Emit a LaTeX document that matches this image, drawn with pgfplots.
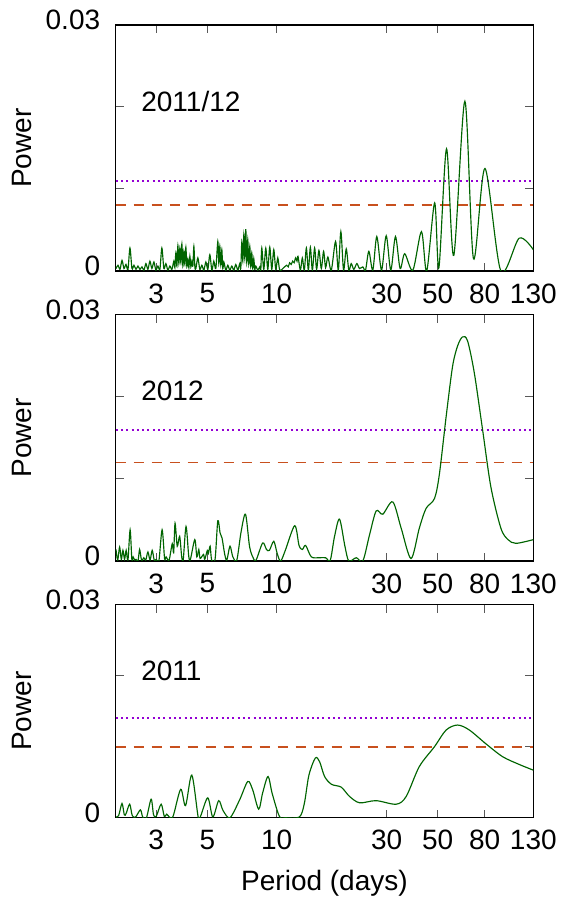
\documentclass[border=0pt]{standalone}
\usepackage{fontspec}
\setmainfont{Liberation Sans}
\usepackage{pgfplots}
\pgfplotsset{compat=1.18}
\newcommand{\fsz}{\fontsize{28}{33}\selectfont}
\definecolor{curve}{RGB}{0,100,0}
\definecolor{violetline}{RGB}{148,0,211}
\definecolor{orangeline}{RGB}{200,80,30}
\tikzset{
  thrdot/.style={violetline, line width=2pt, dash pattern=on 2pt off 3.3pt},
  thrdash/.style={orangeline, line width=1.8pt, dash pattern=on 10pt off 8pt},
  pg/.style={curve, line width=1.15pt, smooth, tension=0.5},
}
\begin{document}
\begin{tikzpicture}
\useasboundingbox (0,0) rectangle (561pt,903pt);
% ---------- Panel 1: 2011/12
\begin{axis}[
    at={(115.7pt,632pt)}, anchor=south west,
    scale only axis, width=417.6pt, height=246pt,
    xmode=log, xmin=2, xmax=130, ymin=0, ymax=0.03,
    xtick={3,5,10,30,50,80,130}, xticklabels={3,5,10,30,50,80,130},
    ytick={0,0.01,0.02,0.03}, yticklabels={0,,,0.03}, scaled y ticks=false,
    tick align=inside, major tick length=8pt,
    axis line style={line width=1.1pt},
    tick style={gray!70!black, line width=1pt},
    tick label style={font=\fsz},
    xticklabel style={yshift=-9pt},
    yticklabel style={xshift=-12pt, yshift=5pt},
    ylabel={Power},
    ylabel style={at={(axis description cs:-0.225,0.5)}, rotate=0, anchor=center, font=\fsz},
]
\addplot[thrdot] coordinates {(2,0.011) (130,0.011)};
\addplot[thrdash] coordinates {(2,0.008) (130,0.008)};
\addplot[pg] coordinates {
(2.006,0.0003)(2.046,0.0007)(2.088,0.0002)(2.130,0.0013)(2.173,0.0003)(2.216,0.0008)(2.261,0.0002)(2.306,0.0028)(2.353,0.0003)(2.400,0.0007)
(2.449,0.0002)(2.498,0.0006)(2.548,0.0002)(2.600,0.0005)(2.652,0.0001)(2.705,0.0009)(2.760,0.0002)(2.815,0.0012)(2.872,0.0003)(2.930,0.0011)
(2.989,0.0001)(3.049,0.0006)(3.111,0.0002)(3.173,0.0028)(3.237,0.0003)(3.303,0.0009)(3.369,0.0001)(3.437,0.0006)(3.507,0.0002)(3.577,0.0012)
(3.613,0.0004)(3.650,0.0022)(3.687,0.0006)(3.724,0.0031)(3.761,0.0009)(3.799,0.0028)(3.837,0.0010)(3.876,0.0033)(3.915,0.0006)(3.954,0.0024)
(3.993,0.0008)(4.033,0.0029)(4.074,0.0005)(4.115,0.0014)(4.156,0.0004)(4.198,0.0018)(4.240,0.0005)(4.282,0.0012)(4.325,0.0006)(4.369,0.0030)
(4.413,0.0005)(4.457,0.0003)(4.546,0.0016)(4.638,0.0002)(4.732,0.0007)(4.827,0.0001)(4.925,0.0011)(5.024,0.0002)(5.125,0.0020)(5.229,0.0001)
(5.334,0.0012)(5.441,0.0003)(5.551,0.0036)(5.607,0.0009)(5.663,0.0030)(5.720,0.0007)(5.777,0.0026)(5.835,0.0003)(5.894,0.0011)(6.013,0.0001)
(6.134,0.0007)(6.258,0.0001)(6.384,0.0006)(6.513,0.0001)(6.644,0.0008)(6.778,0.0001)(6.915,0.0009)(6.984,0.0003)(7.054,0.0035)(7.125,0.0012)
(7.197,0.0044)(7.269,0.0015)(7.342,0.0051)(7.416,0.0010)(7.490,0.0038)(7.565,0.0008)(7.641,0.0030)(7.718,0.0005)(7.795,0.0022)(7.873,0.0003)
(7.952,0.0015)(8.032,0.0002)(8.113,0.0006)(8.276,0.0001)(8.443,0.0005)(8.528,0.0001)(8.614,0.0028)(8.787,0.0002)(8.965,0.0028)(9.146,0.0002)
(9.330,0.0029)(9.518,0.0002)(9.711,0.0026)(9.906,0.0002)(10.11,0.0016)(10.31,0.0001)
(10.72,0.0004)(11.05,0.0007)(11.22,0.0005)(11.38,0.0010)(11.56,0.0008)(11.73,0.0012)(11.90,0.0010)(12.08,0.0016)(12.25,0.0012)(12.37,0.0018)
(12.67,0.0001)(12.92,0.0016)(13.18,0.0001)(13.45,0.0028)(13.72,0.0001)(14.00,0.0029)(14.28,0.0001)(14.61,0.0028)(14.90,0.0002)(15.25,0.0025)
(15.62,0.0003)(15.98,0.0024)(16.30,0.0004)(16.68,0.0017)(17.26,0.0001)(18.01,0.0036)(18.51,0.0001)(18.99,0.0048)(19.51,0.0001)(20.04,0.0027)
(20.56,0.0001)(21.06,0.0009)(21.62,0.0002)(22.28,0.0009)(22.88,0.0003)(23.65,0.0005)(24.30,0.0001)(25.12,0.0024)(26.13,0.0001)(27.20,0.0042)
(28.51,0.0001)(29.88,0.0043)(31.28,0.0001)(32.78,0.0042)(34.34,0.0003)(35.96,0.0021)(39.0,0.0001)(42.5,0.0048)(44.8,0.0000)(48.5,0.0083)
(50.6,0.0004)(54.6,0.0149)(58.7,0.0019)(65.6,0.0207)(71.5,0.0015)(80.2,0.0125)(94.0,0.0000)(112.9,0.0040)(130,0.0026)
};
\node[anchor=west, font=\fsz] at (rel axis cs:0.053,0.69) {2011/12};
\end{axis}
% ---------- Panel 2: 2012
\begin{axis}[
    at={(115.7pt,342pt)}, anchor=south west,
    scale only axis, width=417.6pt, height=246.3pt,
    xmode=log, xmin=2, xmax=130, ymin=0, ymax=0.03,
    xtick={3,5,10,30,50,80,130}, xticklabels={3,5,10,30,50,80,130},
    ytick={0,0.01,0.02,0.03}, yticklabels={0,,,0.03}, scaled y ticks=false,
    tick align=inside, major tick length=8pt,
    axis line style={line width=1.1pt},
    tick style={gray!70!black, line width=1pt},
    tick label style={font=\fsz},
    xticklabel style={yshift=-9pt},
    yticklabel style={xshift=-12pt, yshift=5pt},
    ylabel={Power},
    ylabel style={at={(axis description cs:-0.225,0.5)}, rotate=0, anchor=center, font=\fsz},
]
\addplot[thrdot] coordinates {(2,0.016) (130,0.016)};
\addplot[thrdash] coordinates {(2,0.012) (130,0.012)};
\addplot[pg] coordinates {
(2.006,0.0014)(2.04,0.0001)(2.08,0.0017)(2.115,0.0002)(2.15,0.0013)(2.185,0.0002)(2.22,0.0013)(2.26,0.0001)(2.31,0.0038)(2.35,0.0002)
(2.38,0.0005)(2.42,0.0001)(2.45,0.0002)(2.50,0.0000)(2.54,0.0014)(2.59,0.0001)(2.65,0.0004)(2.70,0.0001)(2.76,0.0011)(2.82,0.0001)
(2.88,0.0013)(2.94,0.0001)(3.00,0.0002)(3.08,0.0000)(3.18,0.0038)(3.26,0.0003)(3.31,0.0005)(3.41,0.0001)(3.52,0.0021)(3.57,0.0010)
(3.62,0.0046)(3.70,0.0018)(3.79,0.0030)(3.87,0.0005)(3.93,0.0002)(4.04,0.0042)(4.15,0.0006)(4.22,0.0002)(4.41,0.0026)(4.50,0.0005)
(4.59,0.0014)(4.65,0.0003)(4.81,0.0008)(4.87,0.0002)(5.00,0.0013)(5.05,0.0009)(5.14,0.0018)(5.22,0.0001)(5.40,0.0002)(5.55,0.0049)
(5.68,0.0034)(5.79,0.0028)(5.94,0.0009)(6.07,0.0001)(6.27,0.0018)(6.45,0.0005)(6.71,0.0001)(7.00,0.0035)(7.32,0.0057)(7.62,0.0018)
(7.87,0.0005)(8.13,0.0001)(8.69,0.0022)(9.03,0.0014)(9.30,0.0013)(9.71,0.0024)(10.05,0.0009)(10.40,0.0000)(10.90,0.0013)(11.97,0.0043)
(12.50,0.0019)(12.92,0.0014)(13.35,0.0019)(14.14,0.0005)(15.35,0.0004)(16.30,0.0004)(17.08,0.0001)(17.83,0.0030)(18.74,0.0051)(19.78,0.0018)
(20.56,0.0000)(22.15,0.0004)(23.65,0.0000)(25.30,0.0032)(27.03,0.0061)(28.87,0.0057)(31.90,0.0072)(34.70,0.0040)(38.30,0.0003)(41.60,0.0040)
(44.50,0.0064)(48.40,0.0076)(50.80,0.0105)(54.40,0.0176)(58.00,0.0237)(61.00,0.0262)(64.10,0.0273)(67.40,0.0268)(72.10,0.0229)(78.30,0.0160)
(85.10,0.0090)(94.00,0.0040)(101.0,0.0026)(109.3,0.00215)(130,0.0026)
};
\node[anchor=west, font=\fsz] at (rel axis cs:0.053,0.69) {2012};
\end{axis}
% ---------- Panel 3: 2011
\begin{axis}[
    at={(115.7pt,85.3pt)}, anchor=south west,
    scale only axis, width=417.6pt, height=213pt,
    xmode=log, xmin=2, xmax=130, ymin=0, ymax=0.03,
    xtick={3,5,10,30,50,80,130}, xticklabels={3,5,10,30,50,80,130},
    ytick={0,0.01,0.02,0.03}, yticklabels={0,,,0.03}, scaled y ticks=false,
    tick align=inside, major tick length=8pt,
    axis line style={line width=1.1pt},
    tick style={gray!70!black, line width=1pt},
    tick label style={font=\fsz},
    xticklabel style={yshift=-9pt},
    yticklabel style={xshift=-12pt, yshift=5pt},
    ylabel={Power},
    ylabel style={at={(axis description cs:-0.225,0.5)}, rotate=0, anchor=center, font=\fsz},
    xlabel={Period (days)},
    xlabel style={at={(axis description cs:0.5,-0.31)}, anchor=center, font=\fsz},
]
\addplot[thrdot] coordinates {(2,0.014) (130,0.014)};
\addplot[thrdash] coordinates {(2,0.010) (130,0.010)};
\addplot[pg] coordinates {
(2.006,0.0001)(2.06,0.0003)(2.13,0.0020)(2.18,0.0004)(2.22,0.0006)(2.30,0.0019)(2.36,0.0003)(2.44,0.0001)(2.56,0.0011)(2.62,0.0001)
(2.72,0.0000)(2.85,0.0026)(2.92,0.0004)(3.00,0.0002)(3.15,0.0019)(3.25,0.0002)(3.33,0.0005)(3.42,0.0001)(3.55,0.0002)(3.83,0.0040)
(4.02,0.0017)(4.28,0.0060)(4.56,0.0001)(4.67,0.0002)(5.02,0.0028)(5.28,0.0001)(5.60,0.0024)(5.85,0.0010)(6.27,0.0000)(6.90,0.0025)
(7.49,0.0051)(7.87,0.0039)(8.35,0.0012)(8.69,0.0035)(9.17,0.0058)(9.56,0.0034)(10.27,0.0002)(10.90,0.0000)(12.54,0.0001)(13.18,0.0020)
(13.80,0.0060)(14.71,0.0084)(15.35,0.0079)(16.14,0.0058)(17.30,0.0047)(19.06,0.0043)(20.70,0.0030)(22.90,0.0021)(27.00,0.0024)(33.00,0.0019)
(36.50,0.0030)(41.60,0.0072)(48.40,0.0100)(54.40,0.01235)(61.00,0.01305)(68.60,0.01235)(81.00,0.0104)(95.60,0.0086)(112.9,0.0075)(130,0.0067)
};
\node[anchor=west, font=\fsz] at (rel axis cs:0.053,0.69) {2011};
\end{axis}
\end{tikzpicture}
\end{document}
